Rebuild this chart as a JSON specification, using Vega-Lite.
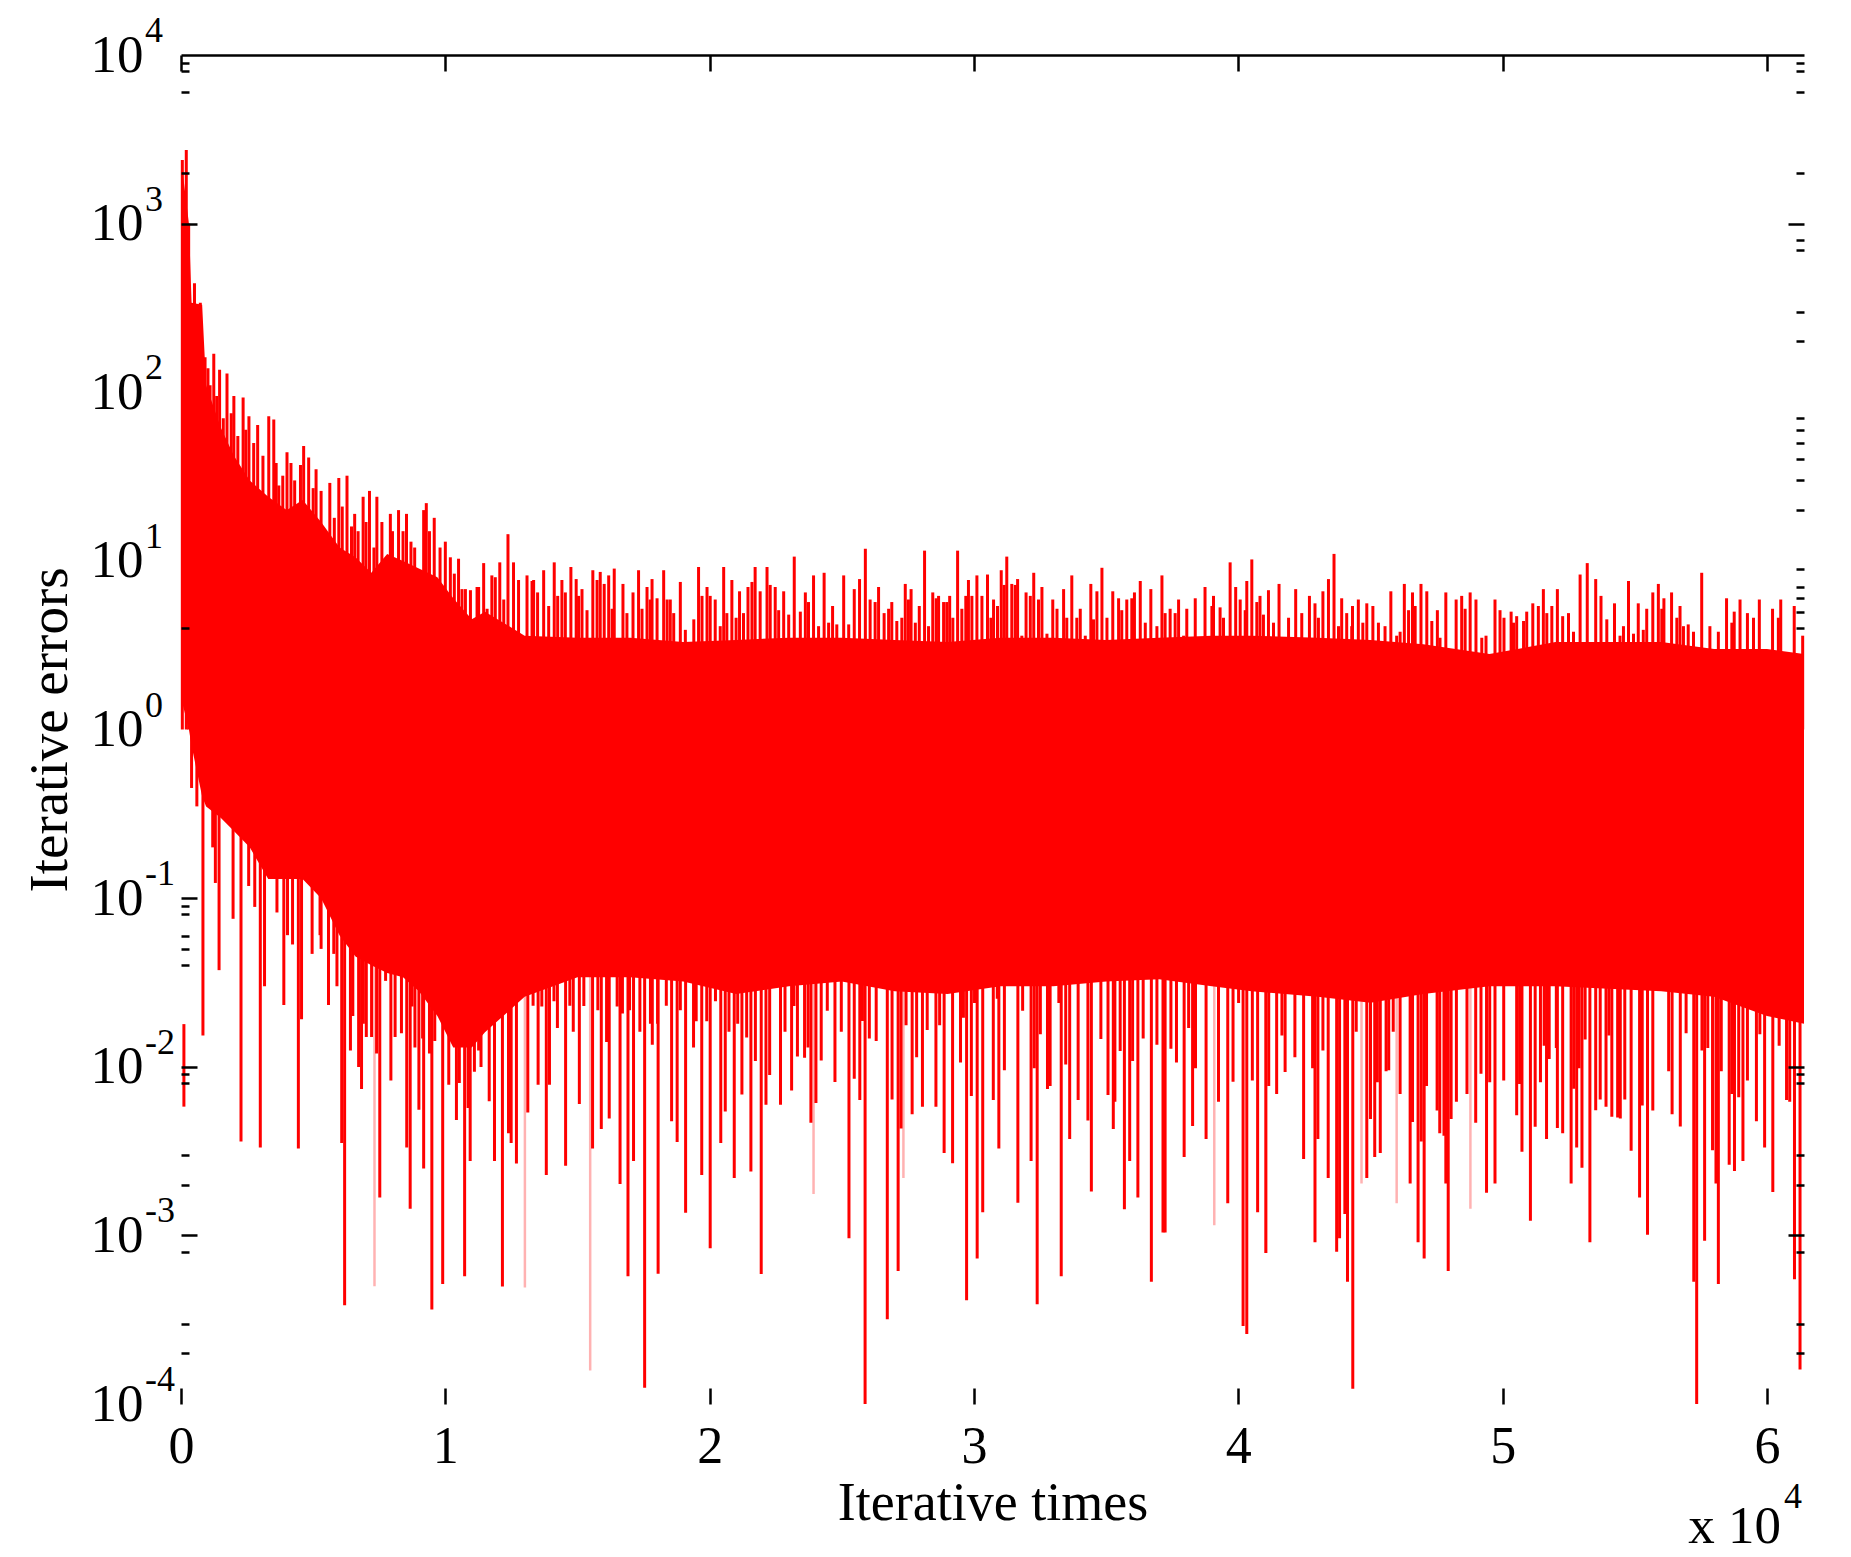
{
  "$schema": "https://vega.github.io/schema/vega-lite/v6.json",
  "autosize": "none",
  "padding": {"left": 181, "top": 55, "right": 47, "bottom": 153},
  "width": 1623,
  "height": 1349,
  "background": "white",
  "config": {"view": {"stroke": null}},
  "datasets": {
    "band": [
      {"t":0.002,"top":2300,"bot":1.5},{"t":0.03,"top":1000,"bot":1},{"t":0.04,"top":340,"bot":0.8},{"t":0.08,"top":330,"bot":0.4},{"t":0.095,"top":110,"bot":0.35},{"t":0.15,"top":62,"bot":0.3},{"t":0.2,"top":42,"bot":0.25},{"t":0.26,"top":30,"bot":0.2},{"t":0.33,"top":24,"bot":0.13},{"t":0.4,"top":20,"bot":0.13},{"t":0.46,"top":23,"bot":0.13},{"t":0.53,"top":17,"bot":0.1},{"t":0.6,"top":12,"bot":0.06},{"t":0.66,"top":10.5,"bot":0.045},{"t":0.72,"top":8.5,"bot":0.04},{"t":0.78,"top":11,"bot":0.036},{"t":0.84,"top":10,"bot":0.034},{"t":0.9,"top":9,"bot":0.028},{"t":0.97,"top":8,"bot":0.02},{"t":1.03,"top":6,"bot":0.013},{"t":1.1,"top":4.5,"bot":0.013},{"t":1.15,"top":5,"bot":0.016},{"t":1.3,"top":3.6,"bot":0.026},{"t":1.5,"top":3.5,"bot":0.034},{"t":1.7,"top":3.5,"bot":0.034},{"t":1.9,"top":3.3,"bot":0.032},{"t":2.1,"top":3.4,"bot":0.027},{"t":2.3,"top":3.5,"bot":0.03},{"t":2.5,"top":3.5,"bot":0.032},{"t":2.7,"top":3.4,"bot":0.028},{"t":2.9,"top":3.3,"bot":0.027},{"t":3.1,"top":3.5,"bot":0.03},{"t":3.3,"top":3.5,"bot":0.03},{"t":3.5,"top":3.4,"bot":0.032},{"t":3.7,"top":3.5,"bot":0.033},{"t":3.9,"top":3.6,"bot":0.03},{"t":4.05,"top":3.6,"bot":0.028},{"t":4.3,"top":3.5,"bot":0.026},{"t":4.5,"top":3.4,"bot":0.024},{"t":4.7,"top":3.2,"bot":0.027},{"t":4.95,"top":2.8,"bot":0.03},{"t":5.2,"top":3.3,"bot":0.03},{"t":5.4,"top":3.3,"bot":0.029},{"t":5.6,"top":3.3,"bot":0.028},{"t":5.8,"top":3,"bot":0.026},{"t":6,"top":3,"bot":0.02},{"t":6.14,"top":2.8,"bot":0.018}
    ],
    "spikes": [
      {"t":0.005,"v":2382},{"t":0.02,"v":2732},{"t":0.029,"v":1003},{"t":0.051,"v":443},{"t":0.073,"v":340},{"t":0.091,"v":161},{"t":0.102,"v":139},{"t":0.124,"v":169},{"t":0.146,"v":136},{"t":0.174,"v":129},{"t":0.2,"v":95},{"t":0.235,"v":93},{"t":0.257,"v":72},{"t":0.29,"v":64},{"t":0.332,"v":72},{"t":0.351,"v":69},{"t":0.37,"v":28},{"t":0.401,"v":44},{"t":0.416,"v":38},{"t":0.452,"v":37},{"t":0.464,"v":48},{"t":0.483,"v":41},{"t":0.511,"v":35},{"t":0.563,"v":29},{"t":0.597,"v":31},{"t":0.628,"v":32},{"t":0.657,"v":19},{"t":0.689,"v":24},{"t":0.713,"v":26},{"t":0.741,"v":24},{"t":0.792,"v":19},{"t":0.823,"v":20},{"t":0.853,"v":19},{"t":0.884,"v":12},{"t":0.918,"v":20},{"t":0.928,"v":22},{"t":0.958,"v":18},{"t":1,"v":13},
      {"t":1.019,"v":10.5},{"t":1.05,"v":10.3},{"t":1.076,"v":6.8},{"t":1.12,"v":7},{"t":1.145,"v":9.7},{"t":1.176,"v":8.2},{"t":1.206,"v":9.8},{"t":1.237,"v":14.4},{"t":1.258,"v":9.8},{"t":1.277,"v":7.7},{"t":1.309,"v":8.2},{"t":1.334,"v":7.7},{"t":1.372,"v":8.8},{"t":1.412,"v":9.8},{"t":1.441,"v":7.7},{"t":1.475,"v":9.2},{"t":1.495,"v":7.8},{"t":1.517,"v":6.8},{"t":1.558,"v":8.8},{"t":1.586,"v":8.6},{"t":1.618,"v":8.2},{"t":1.639,"v":9},{"t":1.672,"v":7.3},{"t":1.71,"v":6.5},{"t":1.731,"v":8.8},{"t":1.763,"v":7},{"t":1.782,"v":7.8},{"t":1.826,"v":8.8},{"t":1.851,"v":5.9},{"t":1.889,"v":7.5},{"t":1.958,"v":9.2},{"t":1.99,"v":7},{"t":2.021,"v":5.9},{"t":2.053,"v":9.2},{"t":2.084,"v":7.7},{"t":2.113,"v":6.6},{"t":2.145,"v":7},{"t":2.172,"v":9.2},{"t":2.217,"v":9.2},{"t":2.248,"v":7},{"t":2.28,"v":6.6},{"t":2.32,"v":10.6},{"t":2.362,"v":6.5},{"t":2.393,"v":8.2},{"t":2.433,"v":8.5},{"t":2.465,"v":5.4},{"t":2.507,"v":8.2},{"t":2.547,"v":6.8},{"t":2.567,"v":7.8},{"t":2.589,"v":11.8},{"t":2.639,"v":7},{"t":2.66,"v":4.9},{"t":2.689,"v":5.7},{"t":2.74,"v":7.3},
      {"t":2.762,"v":6.8},{"t":2.793,"v":5.4},{"t":2.813,"v":11.5},{"t":2.844,"v":6.5},{"t":2.866,"v":6.2},{"t":2.897,"v":5.7},{"t":2.908,"v":6.2},{"t":2.938,"v":11.5},{"t":2.969,"v":6.2},{"t":2.979,"v":7.7},{"t":3.011,"v":8.2},{"t":3.051,"v":8.3},{"t":3.074,"v":5.9},{"t":3.103,"v":8.8},{"t":3.124,"v":10.6},{"t":3.143,"v":7.3},{"t":3.165,"v":7.8},{"t":3.197,"v":6.5},{"t":3.226,"v":8.5},{"t":3.257,"v":7},{"t":3.298,"v":5.9},{"t":3.339,"v":6.8},{"t":3.37,"v":8.2},{"t":3.402,"v":5.2},{"t":3.442,"v":7.3},{"t":3.465,"v":6.6},{"t":3.484,"v":9.1},{"t":3.525,"v":6.6},{"t":3.547,"v":6},{"t":3.578,"v":5.9},{"t":3.607,"v":6.5},{"t":3.629,"v":7.6},{"t":3.669,"v":6.8},{"t":3.711,"v":8.2},{"t":3.742,"v":5.2},{"t":3.774,"v":5.9},{"t":3.805,"v":5.2},{"t":3.837,"v":6},{"t":3.874,"v":7},{"t":3.906,"v":6.2},{"t":3.931,"v":5.3},{"t":3.969,"v":9.8},{"t":3.99,"v":7},{"t":4.032,"v":7.6},{"t":4.051,"v":10.2},{"t":4.082,"v":6.2},{"t":4.114,"v":6.7},{"t":4.154,"v":7.3},{"t":4.217,"v":6.8},{"t":4.269,"v":6.2},{"t":4.29,"v":5.6},{"t":4.32,"v":6.6},{"t":4.341,"v":7.8},{"t":4.362,"v":11},{"t":4.391,"v":6},{"t":4.432,"v":5.4},{"t":4.454,"v":5.9},
      {"t":4.486,"v":5.6},{"t":4.509,"v":5.4},{"t":4.577,"v":6.6},{"t":4.599,"v":3.6},{"t":4.628,"v":7.3},{"t":4.659,"v":6.5},{"t":4.669,"v":5.4},{"t":4.691,"v":7.3},{"t":4.713,"v":6.6},{"t":4.753,"v":5.1},{"t":4.785,"v":6.5},{"t":4.824,"v":5.9},{"t":4.845,"v":6.2},{"t":4.877,"v":6.5},{"t":4.899,"v":5.9},{"t":4.937,"v":3.6},{"t":4.971,"v":5.9},{"t":4.99,"v":5.1},{"t":5.032,"v":5},{"t":5.053,"v":4.7},{"t":5.091,"v":5},{"t":5.114,"v":5.6},{"t":5.154,"v":6.8},{"t":5.186,"v":5.4},{"t":5.207,"v":6.8},{"t":5.227,"v":4.7},{"t":5.249,"v":4.9},{"t":5.293,"v":8.3},{"t":5.32,"v":9.7},{"t":5.352,"v":7.8},{"t":5.372,"v":6.2},{"t":5.423,"v":5.6},{"t":5.457,"v":4.1},{"t":5.476,"v":7.6},{"t":5.513,"v":5.6},{"t":5.545,"v":5.2},{"t":5.568,"v":6.5},{"t":5.589,"v":7.3},{"t":5.61,"v":6},{"t":5.639,"v":6.5},{"t":5.671,"v":5.4},{"t":5.702,"v":4.2},{"t":5.753,"v":8.5},{"t":5.784,"v":4.1},{"t":5.816,"v":3.8},{"t":5.847,"v":6},{"t":5.876,"v":5},{"t":5.898,"v":5.9},{"t":5.926,"v":4.9},{"t":5.971,"v":5.9},{"t":6.021,"v":5.2},{"t":6.052,"v":5.9},{"t":6.103,"v":5.4},{"t":6.135,"v":3.6},
      {"t":0.11,"v":110},{"t":0.135,"v":95},{"t":0.16,"v":70},{"t":0.19,"v":75},{"t":0.215,"v":55},{"t":0.245,"v":60},{"t":0.275,"v":50},{"t":0.31,"v":42},{"t":0.36,"v":38},{"t":0.385,"v":32},{"t":0.43,"v":30},{"t":0.5,"v":27},{"t":0.53,"v":26},{"t":0.58,"v":18},{"t":0.61,"v":21},{"t":0.645,"v":16},{"t":0.67,"v":15},{"t":0.7,"v":17},{"t":0.73,"v":12},{"t":0.76,"v":17},{"t":0.8,"v":15},{"t":0.84,"v":15},{"t":0.87,"v":13},{"t":0.94,"v":15},{"t":0.98,"v":12},
      {"t":1.034,"v":8.4},{"t":1.063,"v":6.8},{"t":1.095,"v":6.7},{"t":1.126,"v":7},{"t":1.158,"v":5.2},{"t":1.189,"v":8},{"t":1.221,"v":5.9},{"t":1.328,"v":7.6},{"t":1.349,"v":6.5},{"t":1.391,"v":5.4},{"t":1.425,"v":6.2},{"t":1.454,"v":6.5},{"t":1.504,"v":6.2},{"t":1.536,"v":5.1},{"t":1.574,"v":7.7},{"t":1.601,"v":7.3},{"t":1.631,"v":5.2},{"t":1.687,"v":4.9},{"t":1.744,"v":5.2},{"t":1.775,"v":5.9},{"t":1.801,"v":6},{"t":1.839,"v":5.9},{"t":1.864,"v":4.9},{"t":1.908,"v":3.9},{"t":1.94,"v":4.5},{"t":1.971,"v":6.2},{"t":2.002,"v":6.2},{"t":2.04,"v":4.1},{"t":2.065,"v":4.9},{"t":2.1,"v":4.6},{"t":2.128,"v":4.9},{"t":2.16,"v":7.5},{"t":2.191,"v":6.6},{"t":2.229,"v":7.2},{"t":2.261,"v":5.1},{"t":2.299,"v":4.8},{"t":2.343,"v":5},{"t":2.374,"v":5.7},{"t":2.412,"v":4.1},{"t":2.45,"v":4.3},{"t":2.481,"v":4.2},{"t":2.526,"v":4.2},{"t":2.607,"v":5.9},{"t":2.626,"v":5.7},{"t":2.677,"v":5.2},{"t":2.708,"v":4.4},
      {"t":2.727,"v":4.6},{"t":2.752,"v":5.9},{"t":2.778,"v":4.3},{"t":2.828,"v":4.1},{"t":2.857,"v":6},{"t":2.885,"v":5.7},{"t":2.92,"v":4.6},{"t":2.954,"v":5.2},{"t":2.992,"v":6.2},{"t":3.03,"v":6.2},{"t":3.064,"v":4.6},{"t":3.089,"v":5.4},{"t":3.114,"v":7.2},{"t":3.156,"v":7.2},{"t":3.181,"v":3.6},{"t":3.213,"v":6.2},{"t":3.244,"v":5.9},{"t":3.276,"v":3.7},{"t":3.314,"v":5.2},{"t":3.351,"v":4.6},{"t":3.389,"v":4.6},{"t":3.421,"v":3.6},{"t":3.452,"v":4.5},{"t":3.503,"v":4.6},{"t":3.559,"v":5.1},{"t":3.597,"v":6},{"t":3.648,"v":4.3},{"t":3.692,"v":4.1},{"t":3.723,"v":4.9},{"t":3.761,"v":4.9},{"t":3.793,"v":3.6},{"t":3.9,"v":5.4},{"t":3.944,"v":4.6},{"t":4.007,"v":5.9},{"t":4.026,"v":5.1},{"t":4.07,"v":5.7},{"t":4.095,"v":4.8},{"t":4.133,"v":4.3},{"t":4.19,"v":4.6},{"t":4.24,"v":4.9},{"t":4.303,"v":4.6},{"t":4.379,"v":4.1},{"t":4.41,"v":4.9},
      {"t":4.429,"v":4.1},{"t":4.471,"v":4.3},{"t":4.53,"v":4.3},{"t":4.555,"v":4.1},{"t":4.612,"v":3.8},{"t":4.644,"v":5.1},{"t":4.732,"v":4.4},{"t":4.763,"v":3.5},{"t":4.858,"v":5.2},{"t":4.921,"v":3.5},{"t":5.005,"v":4.6},{"t":5.041,"v":4.3},{"t":5.079,"v":4.4},{"t":5.135,"v":5.4},{"t":5.167,"v":4.9},{"t":5.268,"v":3.8},{"t":5.394,"v":4.5},{"t":5.444,"v":3.6},{"t":5.495,"v":3.7},{"t":5.532,"v":3.9},{"t":5.602,"v":5.2},{"t":5.659,"v":4.6},{"t":5.684,"v":4.1},{"t":5.722,"v":3.8},{"t":5.867,"v":4.3},{"t":5.949,"v":4.6},{"t":6.043,"v":4.6},
      {"t":0.04,"v":0.45},{"t":0.06,"v":0.35},{"t":0.083,"v":0.0153},{"t":0.12,"v":0.2},{"t":0.13,"v":0.123},{"t":0.144,"v":0.0374},{"t":0.197,"v":0.0754},{"t":0.227,"v":0.0036},{"t":0.256,"v":0.118},{"t":0.279,"v":0.0887},{"t":0.3,"v":0.00332},{"t":0.316,"v":0.03},{"t":0.363,"v":0.0822},{"t":0.389,"v":0.0232},{"t":0.403,"v":0.0603},{"t":0.422,"v":0.0531},{"t":0.444,"v":0.00328},{"t":0.456,"v":0.0191},{"t":0.476,"v":0.147},{"t":0.496,"v":0.0467},{"t":0.526,"v":0.0603},{"t":0.558,"v":0.0232},{"t":0.578,"v":0.0467},{"t":0.608,"v":0.00353},{"t":0.619,"v":0.000385},{"t":0.641,"v":0.0125},{"t":0.672,"v":0.00998},{"t":0.683,"v":0.00738},{"t":0.701,"v":0.015},{"t":0.721,"v":0.015},{"t":0.752,"v":0.00168},{"t":0.774,"v":0.0323},{"t":0.794,"v":0.0083},{"t":0.834,"v":0.0158},{"t":0.854,"v":0.00332},{"t":0.867,"v":0.00144},{"t":0.9,"v":0.00555},{"t":0.918,"v":0.00249},{"t":0.949,"v":0.000364},{"t":0.96,"v":0.0142},{"t":0.99,"v":0.000514},{"t":1.013,"v":0.00783},{"t":1.042,"v":0.00484},{"t":1.053,"v":0.00802},{"t":1.073,"v":0.000573},{"t":1.094,"v":0.00276},{"t":1.11,"v":0.00935},{"t":1.135,"v":0.00998},{"t":1.166,"v":0.00625},{"t":1.186,"v":0.00276},{"t":1.216,"v":0.000498},{"t":1.239,"v":0.00403},{"t":1.249,"v":0.00353},{"t":1.269,"v":0.00267},{"t":1.312,"v":0.00535},{"t":1.351,"v":0.00783},{"t":1.382,"v":0.00228},{"t":1.394,"v":0.00783},{"t":1.424,"v":0.017},{"t":1.455,"v":0.00259},{"t":1.484,"v":0.0161},{"t":1.507,"v":0.00602},{"t":1.557,"v":0.00328},{"t":1.59,"v":0.00427},{"t":1.62,"v":0.00493},{"t":1.661,"v":0.00202},{"t":1.691,"v":0.000573},{"t":1.712,"v":0.00276},{"t":1.754,"v":0.000125},{"t":1.783,"v":0.0135},{"t":1.805,"v":0.000592},{"t":1.856,"v":0.00475},{"t":1.877,"v":0.00358},{"t":1.909,"v":0.00136},{"t":1.939,"v":0.013},{"t":1.97,"v":0.00228},{"t":2.002,"v":0.00084},{"t":2.042,"v":0.00353},
      {"t":2.059,"v":0.00542},{"t":2.093,"v":0.00219},{"t":2.122,"v":0.00685},{"t":2.156,"v":0.00239},{"t":2.195,"v":0.00059},{"t":2.213,"v":0.00596},{"t":2.227,"v":0.00893},{"t":2.268,"v":0.00596},{"t":2.31,"v":0.00722},{"t":2.332,"v":0.0115},{"t":2.359,"v":0.0113},{"t":2.383,"v":0.00466},{"t":2.402,"v":0.00609},{"t":2.422,"v":0.0109},{"t":2.474,"v":0.00813},{"t":2.527,"v":0.00096},{"t":2.568,"v":0.00634},{"t":2.588,"v":0.0001},{"t":2.672,"v":0.000318},{"t":2.713,"v":0.000614},{"t":2.766,"v":0.00523},{"t":2.805,"v":0.00579},{"t":2.856,"v":0.00579},{"t":2.887,"v":0.00308},{"t":2.919,"v":0.00268},{"t":2.949,"v":0.0106},{"t":2.972,"v":0.000412},{"t":3.012,"v":0.00073},{"t":3.033,"v":0.00137},{"t":3.073,"v":0.00634},{"t":3.094,"v":0.00328},{"t":3.115,"v":0.00952},{"t":3.166,"v":0.00156},{"t":3.216,"v":0.00276},{"t":3.239,"v":0.00039},{"t":3.278,"v":0.00738},{"t":3.33,"v":0.000573},{"t":3.362,"v":0.00373},{"t":3.394,"v":0.00634},{"t":3.444,"v":0.00182},{"t":3.527,"v":0.00427},{"t":3.569,"v":0.00143},{"t":3.589,"v":0.00276},{"t":3.62,"v":0.00168},{"t":3.671,"v":0.00053},{"t":3.715,"v":0.00104},{"t":3.723,"v":0.00104},{"t":3.795,"v":0.00292},{"t":3.827,"v":0.00446},{"t":3.878,"v":0.00373},{"t":3.96,"v":0.00155},{"t":3.98,"v":0.00815},{"t":4.018,"v":0.00029},{"t":4.032,"v":0.00026},{"t":4.053,"v":0.0083},{"t":4.073,"v":0.00137},{"t":4.104,"v":0.000785},
      {"t":4.145,"v":0.00689},{"t":4.177,"v":0.00932},{"t":4.247,"v":0.00284},{"t":4.29,"v":0.00091},{"t":4.301,"v":0.00373},{"t":4.34,"v":0.00219},{"t":4.372,"v":0.0008},{"t":4.383,"v":0.00096},{"t":4.403,"v":0.00134},{"t":4.413,"v":0.00053},{"t":4.433,"v":0.000123},{"t":4.486,"v":0.00219},{"t":4.516,"v":0.00292},{"t":4.537,"v":0.00308},{"t":4.569,"v":0.00952},{"t":4.65,"v":0.00203},{"t":4.68,"v":0.00091},{"t":4.703,"v":0.00073},{"t":4.762,"v":0.00403},{"t":4.785,"v":0.00203},{"t":4.794,"v":0.000614},{"t":4.898,"v":0.00466},{"t":4.939,"v":0.00179},{"t":4.971,"v":0.00203},{"t":5.053,"v":0.00515},{"t":5.073,"v":0.00313},{"t":5.105,"v":0.00122},{"t":5.166,"v":0.00373},{"t":5.207,"v":0.00433},{"t":5.227,"v":0.00403},{"t":5.259,"v":0.00203},{"t":5.28,"v":0.00332},{"t":5.3,"v":0.00252},{"t":5.33,"v":0.00091},{"t":5.352,"v":0.00552},{"t":5.391,"v":0.00579},{"t":5.413,"v":0.00505},{"t":5.445,"v":0.00493},{"t":5.486,"v":0.00318},{"t":5.518,"v":0.00168},{"t":5.548,"v":0.00101},{"t":5.641,"v":0.00523},{"t":5.672,"v":0.00443},{"t":5.723,"v":0.00053},{"t":5.734,"v":0.0001},{"t":5.764,"v":0.00093},{"t":5.807,"v":0.00203},{"t":5.816,"v":0.000514},{"t":5.857,"v":0.00262},{"t":5.877,"v":0.00241},{"t":5.909,"v":0.00276},{"t":5.96,"v":0.00475},{"t":5.991,"v":0.00332},{"t":6.022,"v":0.00181},{"t":6.074,"v":0.00634},{"t":6.104,"v":0.00055},{"t":6.125,"v":0.00016},
      {"t":0.53,"v":0.05},{"t":0.59,"v":0.03},{"t":0.65,"v":0.02},{"t":0.69,"v":0.018},{"t":0.74,"v":0.012},{"t":0.81,"v":0.015},{"t":0.874,"v":0.0228},{"t":0.885,"v":0.013},{"t":0.914,"v":0.0147},{"t":0.94,"v":0.012},{"t":1.086,"v":0.0057},{"t":1.126,"v":0.0125},{"t":1.152,"v":0.0186},{"t":1.199,"v":0.0216},{"t":1.219,"v":0.0217},{"t":1.278,"v":0.0292},{"t":1.332,"v":0.023},{"t":1.365,"v":0.0228},{"t":1.411,"v":0.0245},{"t":1.471,"v":0.023},{"t":1.524,"v":0.0229},{"t":1.577,"v":0.0216},{"t":1.61,"v":0.014},{"t":1.65,"v":0.0228},{"t":1.67,"v":0.0207},{"t":1.697,"v":0.0216},{"t":1.736,"v":0.0161},{"t":1.776,"v":0.018},{"t":1.803,"v":0.018},{"t":1.836,"v":0.023},{"t":1.889,"v":0.0216},{"t":1.949,"v":0.0186},{"t":1.989,"v":0.0186},{"t":2.022,"v":0.0245},
      {"t":2.073,"v":0.0161},{"t":2.106,"v":0.018},{"t":2.14,"v":0.0149},{"t":2.173,"v":0.0108},{"t":2.285,"v":0.0161},{"t":2.319,"v":0.0229},{"t":2.372,"v":0.013},{"t":2.445,"v":0.0215},{"t":2.498,"v":0.0161},{"t":2.547,"v":0.0085},{"t":2.578,"v":0.0187},{"t":2.604,"v":0.0147},{"t":2.63,"v":0.0142},{"t":2.69,"v":0.0064},{"t":2.724,"v":0.0043},{"t":2.743,"v":0.0176},{"t":2.783,"v":0.0114},{"t":2.823,"v":0.0165},{"t":2.87,"v":0.0176},{"t":2.96,"v":0.0195},{"t":2.99,"v":0.0067},{"t":3.002,"v":0.0239},{"t":3.088,"v":0.0253},{"t":3.184,"v":0.0215},{"t":3.228,"v":0.0098},{"t":3.251,"v":0.0156},{"t":3.288,"v":0.0077},{"t":3.321,"v":0.0239},{"t":3.347,"v":0.0103},{"t":3.431,"v":0.0048},{"t":3.48,"v":0.0146},{"t":3.507,"v":0.0068},{"t":3.533,"v":0.0062},{"t":3.553,"v":0.0124},{"t":3.6,"v":0.0108},{"t":3.64,"v":0.0147},{"t":3.692,"v":0.0135},{"t":3.745,"v":0.0128},{"t":3.766,"v":0.0106},{"t":3.812,"v":0.017},{"t":3.838,"v":0.0098},{"t":3.925,"v":0.0062},{"t":4.001,"v":0.0239},
      {"t":4.115,"v":0.0077},{"t":4.165,"v":0.0153},{"t":4.214,"v":0.0114},{"t":4.281,"v":0.0098},{"t":4.32,"v":0.0125},{"t":4.446,"v":0.0161},{"t":4.5,"v":0.0049},{"t":4.526,"v":0.0081},{"t":4.559,"v":0.0094},{"t":4.586,"v":0.0161},{"t":4.612,"v":0.0069},{"t":4.659,"v":0.0047},{"t":4.692,"v":0.0036},{"t":4.712,"v":0.0077},{"t":4.752,"v":0.0055},{"t":4.778,"v":0.0039},{"t":4.805,"v":0.0049},{"t":4.825,"v":0.0062},{"t":4.865,"v":0.0069},{"t":4.918,"v":0.0091},{"t":4.951,"v":0.0081},{"t":5.004,"v":0.0083},{"t":5.064,"v":0.0079},{"t":5.123,"v":0.0044},{"t":5.143,"v":0.0081},{"t":5.157,"v":0.0133},{"t":5.176,"v":0.0111},{"t":5.203,"v":0.0129},{"t":5.269,"v":0.0074},{"t":5.289,"v":0.0098},{"t":5.312,"v":0.0145},{"t":5.369,"v":0.0064},{"t":5.402,"v":0.0153},{"t":5.435,"v":0.005},{"t":5.462,"v":0.0064},{"t":5.528,"v":0.0059},{"t":5.568,"v":0.0055},{"t":5.628,"v":0.0094},{"t":5.694,"v":0.0158},{"t":5.754,"v":0.0125},{"t":5.776,"v":0.0129},{"t":5.794,"v":0.0032},{"t":5.827,"v":0.0094},{"t":5.867,"v":0.0069},{"t":5.893,"v":0.0066},{"t":5.926,"v":0.0083},{"t":5.973,"v":0.0156},{"t":6.046,"v":0.0133},{"t":6.086,"v":0.0062},{"t":6.112,"v":0.0215}
    ],
    "pale": [
      {"t":0.732,"v":0.0005},{"t":1.301,"v":0.00049},{"t":1.548,"v":0.000158},{"t":2.393,"v":0.00176},{"t":2.733,"v":0.00219},{"t":3.909,"v":0.00115},{"t":4.105,"v":0.000785},{"t":4.466,"v":0.00203},{"t":4.599,"v":0.00155},{"t":4.878,"v":0.00144}
    ],
    "gap": [{"t":0.011,"hi":0.0179,"lo":0.0058}],
    "exps": [
      {"t":0,"v":10000,"e":"4"},{"t":0,"v":1000,"e":"3"},{"t":0,"v":100,"e":"2"},{"t":0,"v":10,"e":"1"},{"t":0,"v":1,"e":"0"},{"t":0,"v":0.1,"e":"-1"},{"t":0,"v":0.01,"e":"-2"},{"t":0,"v":0.001,"e":"-3"},{"t":0,"v":0.0001,"e":"-4"}
    ],
    "mult": [{"t":6.14,"v":0.0001,"a":"x 10"}],
    "multexp": [{"t":6.14,"v":0.0001,"a":"4"}]
  },
  "resolve": {"axis": {"x": "independent", "y": "independent"}},
  "layer": [
    {
      "data": {"name": "band"},
      "mark": {"type": "area", "color": "#ff0000", "opacity": 1},
      "encoding": {
        "x": {
          "field": "t",
          "type": "quantitative",
          "scale": {"domain": [0, 6.14], "nice": false, "zero": false},
          "axis": {
            "orient": "bottom",
            "values": [0, 1, 2, 3, 4, 5, 6],
            "format": "d",
            "title": "Iterative times",
            "titleFont": "Liberation Serif",
            "titleFontSize": 54,
            "titleFontWeight": "normal",
            "titleColor": "black",
            "titlePadding": 4,
            "labelFont": "Liberation Serif",
            "labelFontSize": 52,
            "labelColor": "black",
            "labelPadding": 33,
            "labelFlush": false,
            "labelOverlap": false,
            "domain": false,
            "grid": false,
            "tickSize": -16,
            "tickWidth": 2.5,
            "tickColor": "black",
            "zindex": 1
          }
        },
        "y": {
          "field": "top",
          "type": "quantitative",
          "scale": {"type": "log", "domain": [0.0001, 10000], "nice": false},
          "axis": {
            "orient": "left",
            "values": [10000, 9000, 8000, 6000, 2000, 1000, 100, 10, 4, 1, 0.1, 0.09, 0.08, 0.06, 0.05, 0.04, 0.01, 0.009, 0.008, 0.003, 0.002, 0.001, 0.0008, 0.0003, 0.0002, 0.0001],
            "labelExpr": "indexof([10000,1000,100,10,1,0.1,0.01,0.001,0.0001], datum.value) >= 0 ? '10' : ''",
            "labelFont": "Liberation Serif",
            "labelFontSize": 53,
            "labelColor": "black",
            "labelPadding": {"condition": {"test": "indexof([1000,0.1,0.01,0.001], datum.value) >= 0", "value": 54}, "value": 46},
            "labelOverlap": false,
            "title": "Iterative errors",
            "titleFont": "Liberation Serif",
            "titleFontSize": 55,
            "titleFontWeight": "normal",
            "titleColor": "black",
            "titlePadding": 12,
            "domain": false,
            "grid": false,
            "tickSize": {"condition": {"test": "indexof([1000,0.1,0.01,0.001], datum.value) >= 0", "value": -16}, "value": -8},
            "tickOpacity": {"condition": {"test": "indexof([10000,100,10,1,0.0001], datum.value) >= 0", "value": 0}, "value": 1},
            "tickWidth": 2.5,
            "tickColor": "black",
            "zindex": 1
          }
        },
        "y2": {"field": "bot"}
      }
    },
    {
      "data": {"name": "spikes"},
      "mark": {"type": "rule", "color": "#ff0000", "strokeWidth": 3},
      "encoding": {
        "x": {
          "field": "t",
          "type": "quantitative",
          "axis": {
            "orient": "top",
            "values": [0, 1, 2, 3, 4, 5, 6],
            "title": null,
            "labels": false,
            "domain": true,
            "domainColor": "black",
            "domainWidth": 2.5,
            "grid": false,
            "tickSize": -16,
            "tickWidth": 2.5,
            "tickColor": "black",
            "zindex": 1
          }
        },
        "y": {
          "field": "v",
          "type": "quantitative",
          "axis": {
            "orient": "right",
            "values": [9000, 8000, 6000, 2000, 1000, 800, 700, 300, 200, 70, 60, 50, 40, 30, 20, 9, 7, 6, 5, 4, 0.01, 0.009, 0.008, 0.003, 0.002, 0.001, 0.0008, 0.0003, 0.0002],
            "title": null,
            "labels": false,
            "domain": false,
            "grid": false,
            "tickSize": {"condition": {"test": "indexof([1000,0.01,0.001], datum.value) >= 0", "value": -16}, "value": -8},
            "tickWidth": 2.5,
            "tickColor": "black",
            "zindex": 1
          }
        },
        "y2": {"datum": 1}
      }
    },
    {
      "data": {"name": "pale"},
      "mark": {"type": "rule", "color": "#ff0000", "strokeWidth": 2.5, "opacity": 0.3},
      "encoding": {
        "x": {"field": "t", "type": "quantitative", "axis": null},
        "y": {"field": "v", "type": "quantitative", "axis": null},
        "y2": {"datum": 1}
      }
    },
    {
      "data": {"name": "gap"},
      "mark": {"type": "rule", "color": "#ff0000", "strokeWidth": 3},
      "encoding": {
        "x": {"field": "t", "type": "quantitative", "axis": null},
        "y": {"field": "hi", "type": "quantitative", "axis": null},
        "y2": {"field": "lo"}
      }
    },
    {
      "data": {"name": "exps"},
      "mark": {"type": "text", "font": "Liberation Serif", "fontSize": 36, "align": "left", "baseline": "middle", "dx": -36, "dy": -24, "color": "black"},
      "encoding": {
        "x": {"field": "t", "type": "quantitative", "axis": null},
        "y": {"field": "v", "type": "quantitative", "axis": null},
        "text": {"field": "e"}
      }
    },
    {
      "data": {"name": "mult"},
      "mark": {"type": "text", "font": "Liberation Serif", "fontSize": 53, "align": "right", "baseline": "middle", "dx": -23, "dy": 123, "color": "black"},
      "encoding": {
        "x": {"field": "t", "type": "quantitative", "axis": null},
        "y": {"field": "v", "type": "quantitative", "axis": null},
        "text": {"field": "a"}
      }
    },
    {
      "data": {"name": "multexp"},
      "mark": {"type": "text", "font": "Liberation Serif", "fontSize": 36, "align": "left", "baseline": "middle", "dx": -20, "dy": 93, "color": "black"},
      "encoding": {
        "x": {"field": "t", "type": "quantitative", "axis": null},
        "y": {"field": "v", "type": "quantitative", "axis": null},
        "text": {"field": "a"}
      }
    }
  ]
}
